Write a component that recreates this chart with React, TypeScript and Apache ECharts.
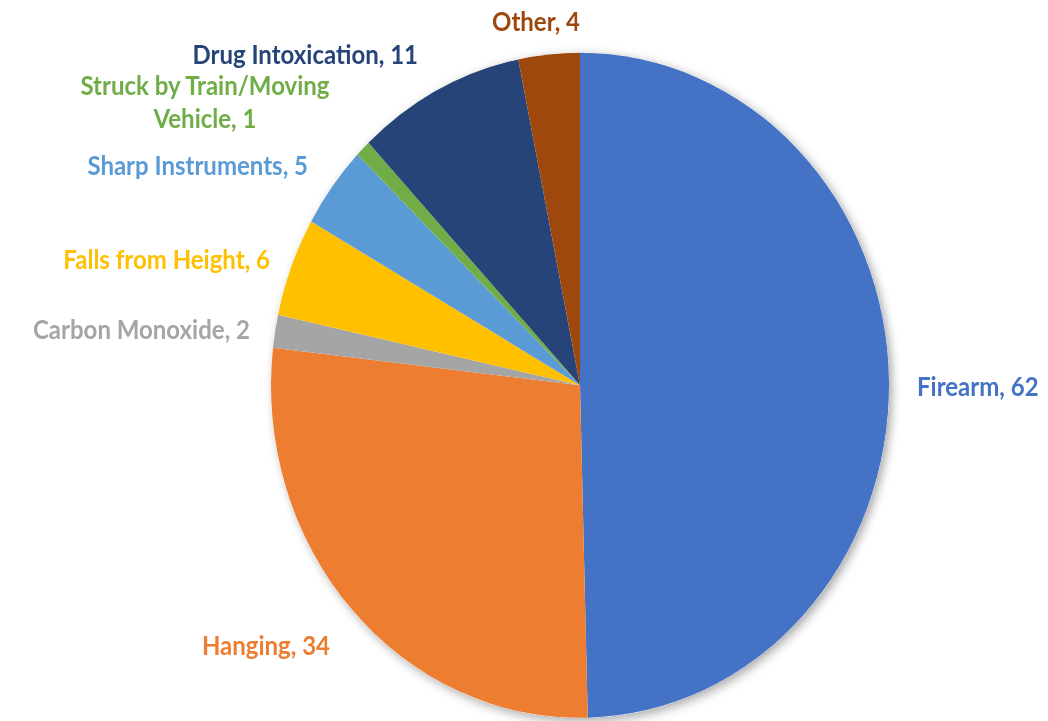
import React, { useEffect, useRef } from "react";
import * as echarts from "echarts";

const categories = [
  "Firearm",
  "Hanging",
  "Carbon Monoxide",
  "Falls from Height",
  "Sharp Instruments",
  "Struck by Train/Moving Vehicle",
  "Drug Intoxication",
  "Other",
];
const values = [62, 34, 2, 6, 5, 1, 11, 4];
const colors = ["#4472C4", "#ED7D31", "#A5A5A5", "#FFC000", "#5B9BD5", "#70AD47", "#264478", "#9E480E"];

// label anchor positions (unscaled px) and alignment
const labelAnchors = [
  { x: 917, y: 358, align: "left" },
  { x: 330, y: 599, align: "right" },
  { x: 250, y: 305, align: "right" },
  { x: 270, y: 240, align: "right" },
  { x: 308, y: 153, align: "right" },
  { x: 205, y: 94, align: "center" },
  { x: 418, y: 50, align: "right" },
  { x: 580, y: 19, align: "right" },
];

const SCALE_Y = 1.0762;

function fmt(name: string, value: number) {
  const s = `${name}, ${value}`;
  if (s.length > 26) {
    const idx = name.lastIndexOf(" ");
    return `${name.slice(0, idx)}\n${name.slice(idx + 1)}, ${value}`;
  }
  return s;
}

export default function App() {
  const ref = useRef<HTMLDivElement>(null);
  useEffect(() => {
    document.body.style.margin = "0";
    const chart = echarts.init(ref.current!, undefined, { renderer: "svg" });
    chart.setOption({
      animation: false,
      backgroundColor: "#ffffff",
      series: [
        {
          type: "pie",
          silent: true,
          center: [580, 358],
          radius: 309,
          z: 1,
          label: { show: false },
          labelLine: { show: false },
          itemStyle: {
            color: "#ffffff",
            shadowBlur: 10,
            shadowColor: "rgba(0,0,0,0.35)",
            shadowOffsetX: 3,
            shadowOffsetY: 3,
          },
          data: [{ value: 1, name: "" }],
        },
        {
          type: "pie",
          center: [580, 358],
          radius: 309,
          z: 2,
          startAngle: 90,
          clockwise: true,
          avoidLabelOverlap: false,
          labelLine: { show: false },
          label: {
            show: true,
            position: "outside",
            fontFamily: "Lato",
            fontWeight: "bold",
            fontSize: 24,
            lineHeight: 30,
            formatter: (p: any) => fmt(p.name, p.value),
          },
          labelLayout: (p: any) => {
            const a = labelAnchors[p.dataIndex];
            return { x: a.x, y: a.y, align: a.align, verticalAlign: "middle" };
          },
          itemStyle: { borderWidth: 0 },
          data: categories.map((c, i) => ({
            name: c,
            value: values[i],
            itemStyle: { color: colors[i] },
            label: { color: colors[i] },
          })),
        },
      ],
    });
    return () => chart.dispose();
  }, []);
  return (
    <div
      style={{
        position: "fixed",
        left: 0,
        top: 0,
        width: 1048,
        height: Math.round(721 / SCALE_Y),
        transform: `scaleY(${SCALE_Y})`,
        transformOrigin: "0 0",
      }}
    >
      <div ref={ref} style={{ width: 1048, height: Math.round(721 / SCALE_Y) }} />
    </div>
  );
}
